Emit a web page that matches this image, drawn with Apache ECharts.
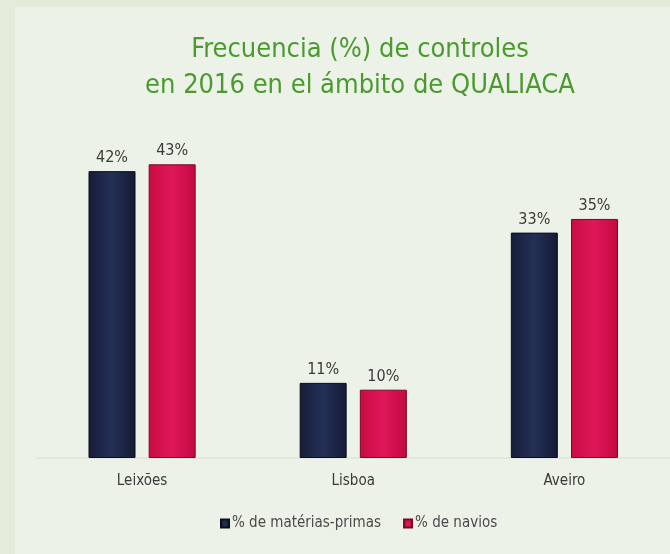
<!DOCTYPE html>
<html><head><meta charset="utf-8">
<script src="https://cdn.jsdelivr.net/npm/echarts@6/dist/echarts.min.js"></script>
<style>html,body{margin:0;padding:0;background:#e3ebd9}#c{width:670px;height:554px}</style>
</head><body><div id="c"></div>
<script>
const categories = ['Leixões', 'Lisboa', 'Aveiro'];
const materiasPrimas = [42, 11, 33];
const navios = [43, 10, 35];
const seriesNames = ['% de matérias-primas', '% de navios'];

const chart = echarts.init(document.getElementById('c'));
const labelStyle = {show: true, position: 'top', distance: 5, formatter: '{c}%', color: '#3a3a3a', fontSize: 16, fontFamily: 'DejaVu Sans Condensed, Liberation Sans, sans-serif'};
chart.setOption({
  backgroundColor: '#e3ebd9',
  animation: false,
  graphic: [{type: 'rect', z: -10, shape: {x: 15, y: 7, width: 670, height: 560}, style: {fill: '#ecf2e8'}}],
  title: {
    text: 'Frecuencia (%) de controles\nen 2016 en el ámbito de QUALIACA',
    left: 355, textAlign: 'center', top: 27,
    textStyle: {color: '#4a9a2e', fontSize: 27, fontWeight: 'normal', lineHeight: 36, fontFamily: 'DejaVu Sans Condensed, sans-serif'}
  },
  legend: {
    data: seriesNames, top: 511, left: 215, itemWidth: 8, itemHeight: 8, itemGap: 22,
    icon: 'rect',
    textStyle: {color: '#4a4a4a', fontSize: 15, fontFamily: 'DejaVu Sans Condensed, sans-serif', padding: [0,0,0,-2]}
  },
  grid: {left: 36.5, right: -5.5, top: 116.5, bottom: 96},
  xAxis: {
    type: 'category', data: categories,
    axisLine: {show: true, lineStyle: {color: '#e2e7de', width: 2}}, axisTick: {show: false},
    axisLabel: {color: '#3a3a3a', fontSize: 15, margin: 16, fontFamily: 'DejaVu Sans Condensed, sans-serif'}
  },
  yAxis: {type: 'value', min: 0, max: 50, show: false, splitLine: {show: false}},
  series: [
    {name: seriesNames[0], type: 'bar', data: materiasPrimas, barWidth: 47, barGap: '28%',
     itemStyle: {color: new echarts.graphic.LinearGradient(0,0,1,0,[{offset:0,color:'#171d38'},{offset:0.5,color:'#243058'},{offset:1,color:'#141a33'}]), borderColor: '#0c0f1e', borderWidth: 1},
     label: labelStyle},
    {name: seriesNames[1], type: 'bar', data: navios, barWidth: 47,
     itemStyle: {color: new echarts.graphic.LinearGradient(0,0,1,0,[{offset:0,color:'#c80c44'},{offset:0.5,color:'#e0175a'},{offset:1,color:'#c20a40'}]), borderColor: '#7a0828', borderWidth: 1},
     label: labelStyle}
  ]
});
</script></body></html>
